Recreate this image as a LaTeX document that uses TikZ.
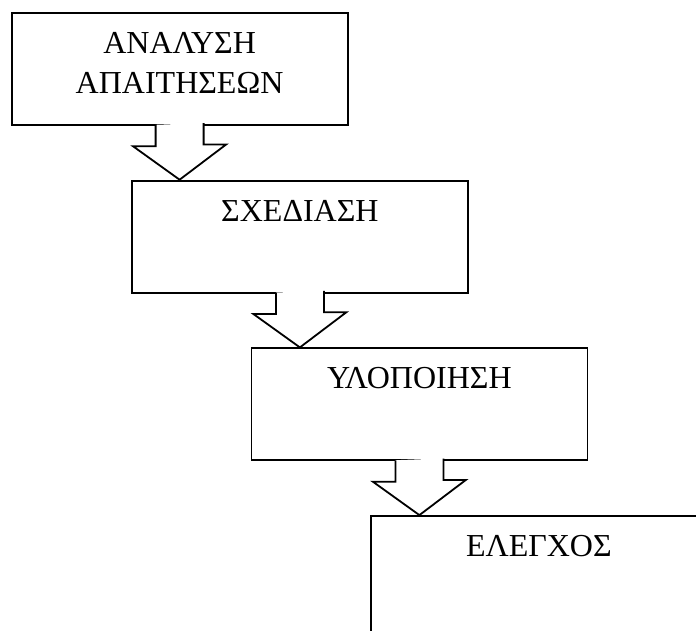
\documentclass[tikz,border=0pt]{standalone}
\usepackage{fontspec}
\setmainfont{Liberation Serif}
\usetikzlibrary{positioning}
\tikzset{
    stage/.style={draw, rectangle, anchor=north west, inner sep=0pt,
        minimum width=336pt, minimum height=112pt},
    stagename/.style={anchor=north, inner sep=0pt, align=center,
        font=\fontsize{32}{40}\selectfont}
}

\begin{document}
\begin{tikzpicture}[x=1pt, y=-1pt, line width=1.8pt, line join=miter]
    \clip (0,0) rectangle (696,630);
% Stages
    \node[stage] (analysis) at (10.7,12) {};
    \node[stage] (design) at (131,179.7) {};
    \node[stage] (implementation) at (250.5,347.4) {};
    \node[stage, minimum height=140pt] (testing) at (370,515.1) {};
% Stage names
    \node[stagename, below=19.5pt of analysis.north] (analysisname) {ΑΝΑΛΥΣΗ\\ΑΠΑΙΤΗΣΕΩΝ};
    \node[stagename, below=19.5pt of design.north] (designname) {ΣΧΕΔΙΑΣΗ};
    \node[stagename, below=19.5pt of implementation.north] (implementationname) {ΥΛΟΠΟΙΗΣΗ};
    \node[stagename, below=19.5pt of testing.north] (testingname) {ΕΛΕΓΧΟΣ};
% Block arrows between stages
    \fill[white] (analysis.south) ++(-24,-1) -- ++(0,21.5) -- ++(-22.5,0) -- (analysis.south |- design.north)
        -- ++(46.5,-35.2) -- ++(-22.5,0) -- ++(0,-21.5) -- cycle;
    \draw (analysis.south) ++(-24,-0.9) -- ++(0,21.4) -- ++(-22.5,0) -- (analysis.south |- design.north)
        -- ++(46.5,-35.2) -- ++(-22.5,0) -- ++(0,-21.4);
    \fill[white] (design.south) ++(-24,-1) -- ++(0,21.5) -- ++(-22.5,0) -- (design.south |- implementation.north)
        -- ++(46.5,-35.2) -- ++(-22.5,0) -- ++(0,-21.5) -- cycle;
    \draw (design.south) ++(-24,-0.9) -- ++(0,21.4) -- ++(-22.5,0) -- (design.south |- implementation.north)
        -- ++(46.5,-35.2) -- ++(-22.5,0) -- ++(0,-21.4);
    \fill[white] (implementation.south) ++(-24,-1) -- ++(0,21.5) -- ++(-22.5,0) -- (implementation.south |- testing.north)
        -- ++(46.5,-35.2) -- ++(-22.5,0) -- ++(0,-21.5) -- cycle;
    \draw (implementation.south) ++(-24,-0.9) -- ++(0,21.4) -- ++(-22.5,0) -- (implementation.south |- testing.north)
        -- ++(46.5,-35.2) -- ++(-22.5,0) -- ++(0,-21.4);
\end{tikzpicture}
\end{document}
